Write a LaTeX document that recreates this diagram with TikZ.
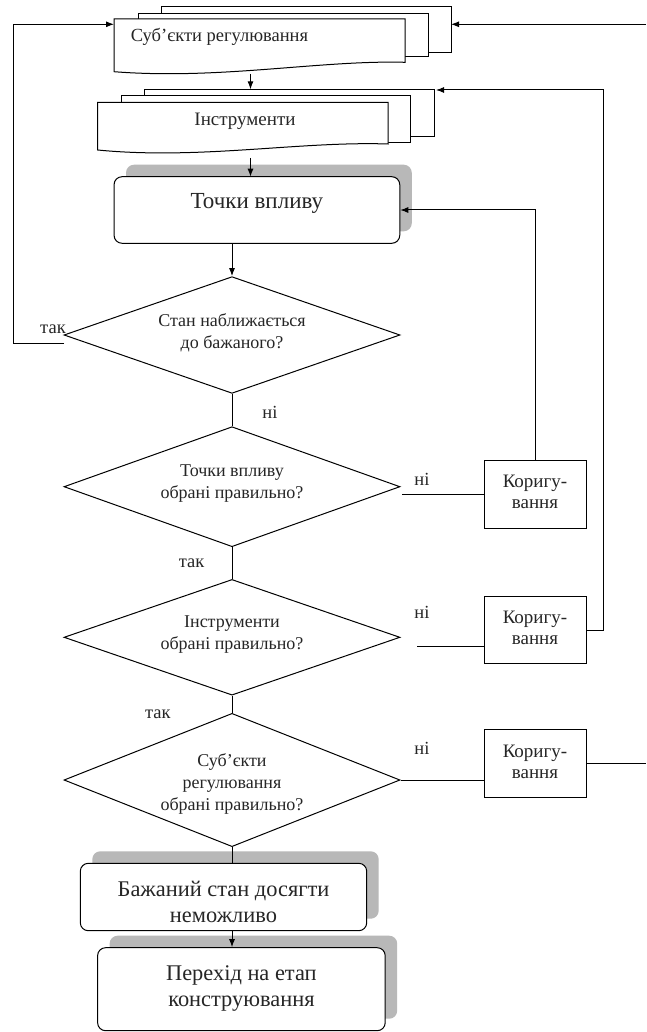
\documentclass[tikz,border=0pt]{standalone}
\usepackage{fontspec}
\setmainfont{Liberation Serif}
\usetikzlibrary{arrows.meta,shapes.geometric,shadows}
\begin{document}
\begin{tikzpicture}[x=1pt,y=-1pt, line width=1pt,
  >={Latex[length=8pt,width=6pt]},
  lbl/.style={font=\fontsize{18.5}{22}\selectfont, text=black!85, inner sep=0pt},
  doctxt/.style={text=black!85, inner sep=0pt},
  dtxt/.style={font=\fontsize{18}{22}\selectfont, text=black!85, align=center, inner sep=0pt},
  dec/.style={diamond, draw, fill=white, inner sep=0pt, minimum width=336pt},
  corr/.style={draw, fill=white, minimum width=102pt, minimum height=67.6pt, inner sep=0pt},
  ctxt/.style={align=center, font=\fontsize{19}{21.5}\selectfont, text=black!85, inner sep=0pt},
  rbox/.style={draw, fill=white, rounded corners=8pt, inner sep=0pt,
    drop shadow={shadow xshift=12pt, shadow yshift=12pt, fill=black!28, opacity=1}},
  btxt/.style={align=center, text=black!85, inner sep=0pt}
  ]
\useasboundingbox (0,0) rectangle (646,1032);
\fill[white] (0,0) rectangle (646,1032);

% top document stack
\draw[fill=white] (161,6.7) rectangle (451,52.7);
\draw[fill=white] (138,13.3) rectangle (428.5,56.7);
\draw[fill=white] (114,19) -- (405,19) -- (405,62.3)
  .. controls (320,60) and (220,80) .. (114,71.7) -- cycle;
\node[doctxt, font=\fontsize{18.5}{22}\selectfont] (subj) at (219.5,37) {Суб’єкти регулювання};
\coordinate (sL) at (114,24.3);
\coordinate (sR) at (451,24.3);
\coordinate (sB) at (250.5,74);

% instruments stack
\draw[fill=white] (144,90) rectangle (434.7,136.7);
\draw[fill=white] (121.5,96) rectangle (410,142.7);
\draw[fill=white] (97.6,102.3) -- (388,102.3) -- (388,144)
  .. controls (300,141) and (200,160) .. (97.6,150) -- cycle;
\node[doctxt, font=\fontsize{19}{22}\selectfont] (instr) at (245,121) {Інструменти};
\coordinate (iT) at (250.5,89.3);
\coordinate (iR) at (436,90);
\coordinate (iB) at (250.5,158);

% impact points box
\node[rbox, minimum width=285.7pt, minimum height=66.6pt] (tv) at (256.9,210) {};
\node[btxt, font=\fontsize{23}{26}\selectfont] (tvtxt) at (256.9,203) {Точки впливу};
\coordinate (tvT) at (250.5,176.7);
\coordinate (tvR) at (tv.east |- 0,210);
\coordinate (tvB) at (232,243.3);

% decisions
\node[dec, minimum height=116.7pt] (d1) at (232,335) {};
\node[dtxt] (d1t) at (232,333) {Стан наближається\\до бажаного?};
\node[dec, minimum height=120pt] (d2) at (232,486.7) {};
\node[dtxt] (d2t) at (232,484) {Точки впливу\\обрані правильно?};
\node[dec, minimum height=115.7pt] (d3) at (232,637.3) {};
\node[dtxt] (d3t) at (232,635) {Інструменти\\обрані правильно?};
\node[dec, minimum height=133.3pt] (d4) at (232,780) {};
\node[dtxt] (d4t) at (232,784) {Суб’єкти\\регулювання\\обрані правильно?};

% correction boxes
\node[corr] (k1) at (535,494.5) {};
\node[ctxt] (k1t) at (535,492) {Коригу-\\вання};
\node[corr] (k2) at (535,630) {};
\node[ctxt] (k2t) at (535,628) {Коригу-\\вання};
\node[corr] (k3) at (535,763.7) {};
\node[ctxt] (k3t) at (535,762) {Коригу-\\вання};

% bottom boxes
\node[rbox, minimum width=286.4pt, minimum height=67.4pt] (b1) at (223.5,897) {};
\node[btxt, font=\fontsize{22.4}{26}\selectfont] (b1t) at (223.5,902) {Бажаний стан досягти\\неможливо};
\node[rbox, minimum width=287.6pt, minimum height=83pt] (b2) at (241.4,989.2) {};
\node[btxt, font=\fontsize{22.4}{26}\selectfont] (b2t) at (241.4,988) {Перехід на етап\\конструювання};

% connectors
\coordinate (loopA) at (64,343.3);
\coordinate (loopB) at (13.6,343.3);
\coordinate (loopC) at (13.6,24.3);
\draw[->] (loopA) -- (loopB) -- (loopC) -- (sL);
\coordinate (topR) at (646,24.3);
\draw[->] (topR) -- (sR);
\draw[->] (sB) -- (iT);
\draw[->] (iB) -- (tvT);
\draw[->] (tvB) -- (d1.north);
\draw (d1.south) -- (d2.north);
\draw (d2.south) -- (d3.north);
\draw (d3.south) -- (d4.north);
\draw (d4.south) -- (b1.north -| d4.south);
\draw[->] (b1.south -| d4.south) -- (b2.north -| d4.south);

\coordinate (d2o) at (402,494.5);
\draw (d2o) -- (k1.west);
\coordinate (k1up) at (535.6,210);
\draw[->] (k1.north -| k1up) -- (k1up) -- (tvR);

\coordinate (d3o) at (417,646.7);
\draw (d3o) -- (d3o -| k2.west);
\coordinate (k2c) at (603.6,630);
\coordinate (k2t) at (603.6,90);
\draw[->] (k2.east) -- (k2c) -- (k2t) -- (iR);

\draw (d4.east) -- (d4.east -| k3.west);
\coordinate (k3o) at (646,763.7);
\draw (k3.east) -- (k3o);

% labels
\node[lbl] (l1) at (53,329) {так};
\node[lbl] (l2) at (270,412) {ні};
\node[lbl] (l3) at (422,479) {ні};
\node[lbl] (l4) at (191.6,563) {так};
\node[lbl] (l5) at (422,612) {ні};
\node[lbl] (l6) at (157.8,714) {так};
\node[lbl] (l7) at (422,748) {ні};
\end{tikzpicture}
\end{document}
